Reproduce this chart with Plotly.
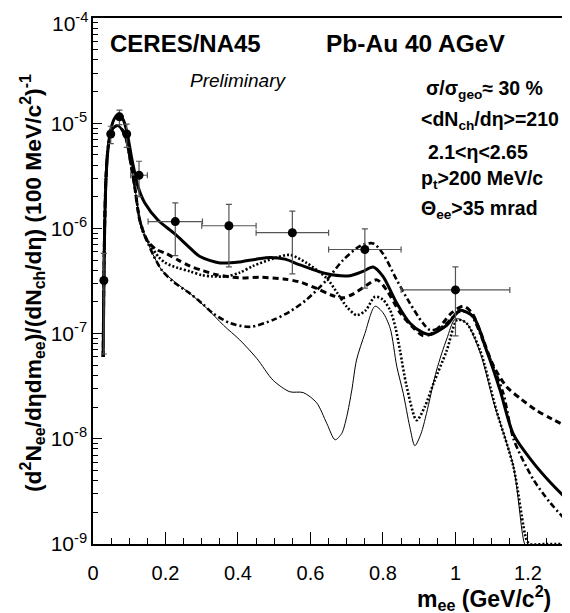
import plotly.graph_objects as go

# ---------------- data ----------------
# measured points
m_data = [0.030, 0.049, 0.073, 0.093, 0.127, 0.227, 0.375, 0.550, 0.750, 1.000]
y_data = [3.2e-7, 7.9e-6, 1.15e-5, 7.9e-6, 3.2e-6, 1.16e-6, 1.06e-6, 9.1e-7, 6.3e-7, 2.6e-7]
y_err_up = [2.6e-7, 1.45e-6, 1.8e-6, 1.9e-6, 1.15e-6, 5.9e-7, 6.3e-7, 5.5e-7, 3.6e-7, 1.7e-7]
y_err_dn = [2.56e-7, 1.5e-6, 1.8e-6, 2.0e-6, 1.2e-6, 6.1e-7, 6.3e-7, 5.4e-7, 3.6e-7, 1.65e-7]
m_err = [0, 0, 0, 0, 0.023, 0.075, 0.075, 0.10, 0.10, 0.15]

# common low-mass (Dalitz) part of the model curves
m_dalitz = [0.028, 0.031, 0.035, 0.040, 0.047, 0.056, 0.068, 0.080, 0.092, 0.103, 0.115, 0.129]
y_dalitz = [6e-8, 6e-7, 2.6e-6, 5.2e-6, 7.5e-6, 9.0e-6, 9.5e-6, 8.7e-6, 7.0e-6, 4.4e-6, 2.5e-6, 1.2e-6]

# thick solid curve
m_thick = [0.028, 0.031, 0.036, 0.042, 0.050, 0.060, 0.072, 0.084, 0.095, 0.106, 0.115, 0.124,
           0.143, 0.179, 0.225, 0.262, 0.295, 0.35, 0.405, 0.45, 0.49, 0.53, 0.571, 0.645,
           0.709, 0.745, 0.773, 0.80, 0.838, 0.874, 0.91, 0.93, 0.976, 1.012, 1.049, 1.086,
           1.123, 1.16, 1.215, 1.26, 1.31]
y_thick = [6e-8, 6e-7, 3e-6, 6e-6, 9.0e-6, 1.12e-5, 1.22e-5, 1.07e-5, 7.8e-6, 4.8e-6, 3.4e-6, 2.5e-6,
           1.74e-6, 1.2e-6, 8.9e-7, 6.8e-7, 5.4e-7, 4.7e-7, 4.8e-7, 5.1e-7, 5.3e-7, 5.1e-7, 4.5e-7, 3.7e-7,
           3.55e-7, 3.9e-7, 4.3e-7, 3.5e-7, 1.95e-7, 1.26e-7, 1.02e-7, 9.8e-8, 1.2e-7, 1.66e-7, 1.45e-7, 6.9e-8,
           2.9e-8, 1.1e-8, 5.9e-9, 3.9e-9, 2.6e-9]

# dashed curve (tail after Dalitz part)
m_dash_tail = [0.15, 0.175, 0.203, 0.235, 0.268, 0.30, 0.341, 0.405, 0.46, 0.525, 0.571, 0.617,
               0.655, 0.69, 0.72, 0.746, 0.783, 0.81, 0.847, 0.88, 0.91, 0.935, 0.957, 0.99,
               1.022, 1.045, 1.068, 1.104, 1.14, 1.18, 1.224, 1.265, 1.31]
y_dash_tail = [7.6e-7, 6.3e-7, 5.75e-7, 5.0e-7, 4.37e-7, 4.0e-7, 3.63e-7, 3.39e-7, 3.43e-7, 3.31e-7, 3.09e-7, 2.69e-7,
               2.34e-7, 2.19e-7, 2.4e-7, 2.75e-7, 3.24e-7, 2.6e-7, 1.58e-7, 1.17e-7, 9.6e-8, 1.0e-7, 1.17e-7, 1.58e-7,
               1.82e-7, 1.58e-7, 1.05e-7, 5.0e-8, 3.16e-8, 2.4e-8, 1.86e-8, 1.55e-8, 1.3e-8]

# dotted curve
m_dot_tail = [0.14, 0.16, 0.18, 0.2, 0.235, 0.268, 0.30, 0.33, 0.369, 0.405, 0.442, 0.50,
              0.543, 0.589, 0.645, 0.675, 0.70, 0.727, 0.752, 0.778, 0.80, 0.82, 0.835, 0.847,
              0.865, 0.893, 0.915, 0.94, 0.976, 1.005, 1.03, 1.068, 1.113, 1.16, 1.196, 1.205,
              1.25, 1.31]
y_dot_tail = [8.9e-7, 6.8e-7, 5.4e-7, 4.7e-7, 4.2e-7, 3.9e-7, 3.6e-7, 3.5e-7, 3.5e-7, 3.8e-7, 4.4e-7, 5.2e-7,
              5.6e-7, 4.7e-7, 3.35e-7, 2.4e-7, 1.8e-7, 1.5e-7, 1.66e-7, 2.24e-7, 2.1e-7, 1.66e-7, 1.12e-7, 6.9e-8,
              3.2e-8, 1.5e-8, 2.0e-8, 3.4e-8, 6.9e-8, 1.35e-7, 1.26e-7, 6.9e-8, 1.86e-8, 5.4e-9, 1.1e-9, 1.0e-9,
              1.0e-9, 1.0e-9]

# dash-dotted curve
m_dd_tail = [0.14, 0.152, 0.166, 0.19, 0.222, 0.268, 0.30, 0.332, 0.378, 0.433, 0.497, 0.543,
             0.589, 0.645, 0.69, 0.737, 0.773, 0.80, 0.838, 0.874, 0.91, 0.93, 0.955, 0.976,
             1.012, 1.04, 1.086, 1.132, 1.16, 1.215, 1.26, 1.31]
y_dd_tail = [9.1e-7, 7.2e-7, 5.6e-7, 4.0e-7, 3.1e-7, 2.4e-7, 1.95e-7, 1.55e-7, 1.26e-7, 1.16e-7, 1.35e-7, 1.62e-7,
             2.1e-7, 3.24e-7, 5.0e-7, 6.8e-7, 7.2e-7, 5.75e-7, 3.24e-7, 1.95e-7, 1.26e-7, 1.08e-7, 1.12e-7, 1.26e-7,
             1.62e-7, 1.55e-7, 6.9e-8, 2.7e-8, 1.0e-8, 4.1e-9, 2.5e-9, 1.6e-9]

# thin solid curve
m_thin_tail = [0.14, 0.152, 0.166, 0.19, 0.231, 0.268, 0.314, 0.36, 0.405, 0.452, 0.497, 0.543,
               0.58, 0.617, 0.645, 0.668, 0.686, 0.70, 0.714, 0.727, 0.75, 0.778, 0.80, 0.82,
               0.838, 0.856, 0.874, 0.888, 0.905, 0.92, 0.948, 0.976, 1.0, 1.03, 1.068, 1.104,
               1.16, 1.19, 1.2]
y_thin_tail = [9.1e-7, 7.2e-7, 5.6e-7, 4.0e-7, 3.0e-7, 2.4e-7, 1.74e-7, 1.2e-7, 8.7e-8, 5.8e-8, 3.6e-8, 2.8e-8,
               2.75e-8, 2.2e-8, 1.4e-8, 9.8e-9, 1.12e-8, 1.62e-8, 2.9e-8, 5.6e-8, 1.0e-7, 1.82e-7, 1.58e-7, 1.12e-7,
               4.9e-8, 2.7e-8, 1.3e-8, 8.6e-9, 1.12e-8, 1.74e-8, 4.5e-8, 8.9e-8, 1.38e-7, 1.26e-7, 6.6e-8, 2.3e-8,
               5.4e-9, 1.02e-9, 8.9e-10]

y_tickvals = [1e-9, 1e-8, 1e-7, 1e-6, 1e-5, 1e-4]
y_ticktext = ["10<sup>-9</sup>", "10<sup>-8</sup>", "10<sup>-7</sup>",
              "10<sup>-6</sup>", "10<sup>-5</sup>", ""]
y_top_label = "10<sup>-4</sup>"   # drawn separately (ROOT pushes it inside the frame)
y_minor = [k * d for d in [1e-9, 1e-8, 1e-7, 1e-6, 1e-5] for k in range(2, 10)]

# ---------------- figure ----------------
FONT = "Liberation Sans, Arial, Helvetica, sans-serif"
fig = go.Figure()

def curve(mx, my, width, dash, smooth=0.8):
    fig.add_trace(go.Scatter(x=mx, y=my, mode="lines",
                             line=dict(color="black", width=width, dash=dash,
                                       shape="spline", smoothing=smooth),
                             hoverinfo="skip"))

curve(m_dalitz + m_thin_tail, y_dalitz + y_thin_tail, 1.0, "solid")
curve(m_dalitz + m_dot_tail, y_dalitz + y_dot_tail, 2.6, "2px,2px")
curve(m_dalitz + m_dd_tail, y_dalitz + y_dd_tail, 2.6, "6px,3px,2px,3px")
curve(m_dalitz + m_dash_tail, y_dalitz + y_dash_tail, 3.0, "6px,4px")
curve(m_thick, y_thick, 3.0, "solid")

fig.add_trace(go.Scatter(
    x=m_data, y=y_data, mode="markers",
    marker=dict(color="black", size=9, symbol="circle"),
    error_y=dict(type="data", symmetric=False, array=y_err_up, arrayminus=y_err_dn,
                 color="#555555", thickness=1.2, width=3),
    error_x=dict(type="data", array=m_err, color="#555555", thickness=1.2, width=3),
    hoverinfo="skip"))

# page body has an 8px margin: figure is drawn 8px right/down
fig.update_layout(
    width=562, height=605,
    margin=dict(l=85, r=0, t=10, b=69),
    plot_bgcolor="white", paper_bgcolor="white",
    showlegend=False,
    font=dict(family=FONT, color="black"),
    xaxis=dict(range=[0, 1.316], showline=True, linecolor="black", linewidth=1.5,
               mirror=True, ticks="inside", ticklen=12, tickwidth=1, tickcolor="black",
               tick0=0, dtick=0.2, tickfont=dict(size=20, family=FONT),
               showgrid=False, zeroline=False, ticklabelstandoff=10,
               minor=dict(ticks="inside", ticklen=6, dtick=0.05, tick0=0,
                          tickcolor="black", showgrid=False)),
    yaxis=dict(type="log", range=[-9, -4], showline=True, linecolor="black", linewidth=1.5,
               ticks="inside", ticklen=9, tickwidth=1, tickcolor="black",
               tickmode="array", tickvals=y_tickvals, ticktext=y_ticktext,
               tickfont=dict(size=21, family=FONT), showgrid=False, zeroline=False,
               minor=dict(tickmode="array", tickvals=y_minor, ticks="inside", ticklen=5,
                          tickcolor="black", showgrid=False)),
)

def px2paper(px, py):
    return (px - 93) / 477.0, (544 - py) / 526.0

def note(text, px, py, size, xanchor="left"):
    x, y = px2paper(px, py)
    fig.add_annotation(text=text, x=x, y=y, xref="paper", yref="paper",
                       xanchor=xanchor, yanchor="middle", showarrow=False,
                       font=dict(size=size, family=FONT, color="black"))

note("<b>CERES/NA45</b>", 185.5, 43, 24, "center")
note("<b>Pb-Au 40 AGeV</b>", 415, 43, 24.5, "center")
note("<i>Preliminary</i>", 238, 80, 19, "center")
note("<b>σ/σ<sub>geo</sub>≈ 30 %</b>", 424, 89, 19.5)
note("<b>&lt;dN<sub>ch</sub>/dη&gt;=210</b>", 419, 121, 19.5)
note("<b>2.1&lt;η&lt;2.65</b>", 426, 151.5, 19.5)
note("<b>p<sub>t</sub>&gt;200 MeV/c</b>", 419, 179, 19.5)
note("<b>Θ<sub>ee</sub>&gt;35 mrad</b>", 419, 209, 19.5)
note(y_top_label, 90, 22, 21, "right")

# axis titles
fig.add_annotation(text="<b>(d<sup>2</sup>N<sub>ee</sub>/dηdm<sub>ee</sub>)/(dN<sub>ch</sub>/dη) (100 MeV/c<sup>2</sup>)<sup>-1</sup></b>",
                   x=0, y=(544 - 283) / 526.0, xref="paper", yref="paper", xanchor="center", yanchor="middle",
                   xshift=-60, textangle=-90, showarrow=False,
                   font=dict(size=22.8, family=FONT, color="black"))
fig.add_annotation(text="<b>m<sub>ee</sub> (GeV/c<sup>2</sup>)</b>",
                   x=(553 - 93) / 477.0, y=(544 - 598) / 526.0, xref="paper", yref="paper",
                   xanchor="right", yanchor="middle", showarrow=False,
                   font=dict(size=23, family=FONT, color="black"))

fig.write_html("out.html")
